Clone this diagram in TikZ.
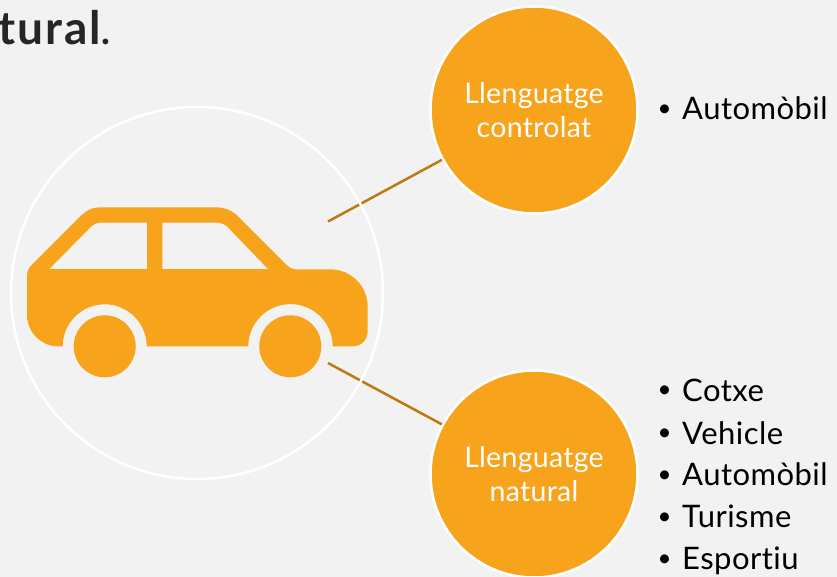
\documentclass[tikz,border=0pt]{standalone}
\usepackage{fontspec}
\setmainfont[Ligatures=NoCommon]{Lato}
\definecolor{bgc}{HTML}{F2F2F2}
\definecolor{org}{HTML}{F7A31C}
\definecolor{brn}{HTML}{BC7A14}
\definecolor{ink}{HTML}{262626}
\tikzset{
 bub/.style={circle,fill=org,draw=white,line width=2.5pt,minimum size=207pt,inner sep=0pt,text=white,align=center,font=\fontsize{28.5}{34}\selectfont\addfontfeature{LetterSpace=1}},
 itemtxt/.style={anchor=base west,inner sep=0pt,text=black,font=\fontsize{31}{32}\selectfont\addfontfeature{LetterSpace=1.5}},
 dot/.style={anchor=base west,inner sep=0pt,text=black,font=\fontsize{24}{32}\selectfont},
 link/.style={draw=brn,line width=2.5pt},
 carfill/.style={fill=org,draw=none,even odd rule}
}
\begin{document}
\begin{tikzpicture}[x=1pt,y=-1pt]
\useasboundingbox (0,0) rectangle (837,577);
\fill[bgc] (0,0) rectangle (837,577);
\node[anchor=base east,inner sep=0pt,text=ink,font=\fontsize{46}{50}\selectfont\addfontfeature{LetterSpace=4}] (title) at (112,45) {\textbf{tural}.};
% big ring node
\node[circle,draw=none,minimum size=372pt,inner sep=0pt] (ring) at (197,293) {};
\node[bub] (c1) at (534,110) {Llenguatge\\controlat};
\node[bub] (c2) at (534,474) {Llenguatge\\natural};
\coordinate (e1) at (328,221.5);
\coordinate (e2) at (328,363);
\draw[link] (e1) -- (c1);
\draw[link] (e2) -- (c2);
\draw[white,line width=2.5pt] (ring.center) circle (186);
% car
\path[carfill]
 (27,276) .. controls (27,271) and (29,268) .. (31.7,265) -- (81.7,215)
 .. controls (87,210) and (93,207.3) .. (100,207.3) -- (216.7,207.3)
 .. controls (224,207.3) and (231,210) .. (236.7,215) -- (286.7,265)
 .. controls (289,267.5) and (292,269.3) .. (295,269.3) -- (330,269.3)
 .. controls (351,269.3) and (367.7,286) .. (367.7,306.7) -- (367.7,331)
 .. controls (367.7,340) and (361,346.3) .. (353,346.3) -- (332.7,346.3)
 arc[start angle=0,end angle=-180,radius=42.2] -- (146.7,346.3)
 arc[start angle=0,end angle=-180,radius=42] -- (58,346.3)
 .. controls (41,346.3) and (27,332) .. (27,315) -- cycle
 (49.3,269) -- (147,269) -- (147,222.7) -- (100,222.7)
 .. controls (97,222.7) and (94,224) .. (91.7,226) -- cycle
 (162.3,269) -- (268,269) -- (226.7,226)
 .. controls (224,224) and (220,222.7) .. (216.7,222.7) -- (162.3,222.7) -- cycle;
\node[circle,fill=org,minimum size=62pt,inner sep=0pt] (w1) at (104.7,346.3) {};
\node[circle,fill=org,minimum size=62pt,inner sep=0pt] (w2) at (290.3,346.3) {};
% lists
\node[dot] (b0) at (657.5,116.5) {•};
\node[itemtxt] (t0) at (682,120) {Automòbil};
\node[dot] (b1) at (657.5,397.5) {•};
\node[itemtxt] (t1) at (682,401) {Cotxe};
\node[dot] (b2) at (657.5,440.5) {•};
\node[itemtxt] (t2) at (682,444) {Vehicle};
\node[dot] (b3) at (657.5,482) {•};
\node[itemtxt] (t3) at (682,485.5) {Automòbil};
\node[dot] (b4) at (657.5,524) {•};
\node[itemtxt] (t4) at (682,527.5) {Turisme};
\node[dot] (b5) at (657.5,566) {•};
\node[itemtxt] (t5) at (682,569.5) {Esportiu};
\end{tikzpicture}
\end{document}
